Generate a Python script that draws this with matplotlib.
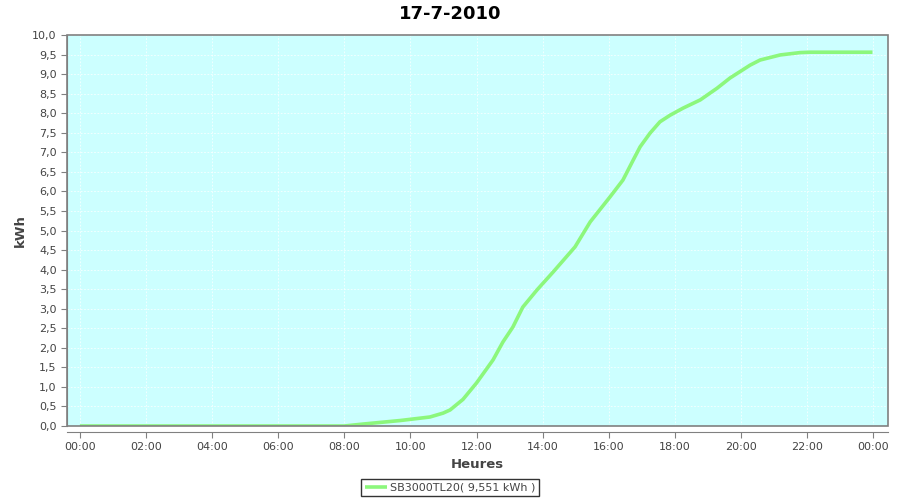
import matplotlib
matplotlib.use('Agg')
import matplotlib.pyplot as plt
from matplotlib.patches import Rectangle
from matplotlib.ticker import FuncFormatter, MultipleLocator

# energy production, 17-7-2010
hours = [0.0, 8.0, 8.57, 9.69, 10.59, 10.99, 11.2, 11.59, 12.0, 12.5, 12.8,
         13.1, 13.4, 13.83, 14.32, 14.98, 15.44, 16.04, 16.43, 16.74, 16.95,
         17.25, 17.55, 17.86, 18.25, 18.77, 19.28, 19.67, 20.28, 20.58, 21.19,
         21.79, 22.1, 23.0, 23.98]
kwh = [0.0, 0.0, 0.05, 0.14, 0.23, 0.33, 0.41, 0.68, 1.1, 1.69, 2.15,
       2.53, 3.04, 3.48, 3.94, 4.58, 5.22, 5.86, 6.29, 6.8, 7.14,
       7.49, 7.78, 7.95, 8.13, 8.34, 8.64, 8.9, 9.23, 9.36, 9.49,
       9.55, 9.56, 9.56, 9.56]
series_label = 'SB3000TL20( 9,551 kWh )'
title = '17-7-2010'

fig = plt.figure(figsize=(9, 5), dpi=100)
ax = fig.add_axes([67/900, 74/500, 821/900, 391/500])
ax.set_facecolor('#ccffff')

ax.plot(hours, kwh, color='#8cf77c', linewidth=2.6, label=series_label,
        solid_capstyle='butt')

ax.set_xlim(-0.39, 24.45)
ax.set_ylim(0, 10)
ax.xaxis.set_major_locator(MultipleLocator(2))
ax.yaxis.set_major_locator(MultipleLocator(0.5))
ax.xaxis.set_major_formatter(FuncFormatter(lambda v, p: '%02d:00' % (int(round(v)) % 24)))
ax.yaxis.set_major_formatter(FuncFormatter(lambda v, p: ('%.1f' % v).replace('.', ',')))

ax.grid(True, color='white', linestyle=(0, (2, 2)), linewidth=0.6, alpha=0.85)
ax.set_axisbelow(True)

for s in ['top', 'right']:
    ax.spines[s].set_visible(False)
ax.spines['bottom'].set_position(('outward', 4))
ax.spines['bottom'].set_color('#808080')
ax.spines['left'].set_color('#808080')
ax.add_patch(Rectangle((0, 0), 1, 1, transform=ax.transAxes, fill=False,
                       edgecolor='#808080', linewidth=1.2, zorder=5, clip_on=False))

ax.tick_params(colors='#808080', labelcolor='#444444', labelsize=8, length=4)
ax.set_xlabel('Heures', fontsize=9.5, fontweight='bold', color='#444444', labelpad=4)
ax.set_ylabel('kWh', fontsize=9.5, fontweight='bold', color='#444444', labelpad=4)
fig.text(0.5, 1 - 14/500, title, fontsize=13, fontweight='bold',
         ha='center', va='center')

leg = fig.legend(loc='center', bbox_to_anchor=(0.5, 0.025), fontsize=8,
                 frameon=True, fancybox=False, handlelength=2.0, borderpad=0.35,
                 handletextpad=0.3, labelcolor='#444444')
leg.get_frame().set_edgecolor('black')
leg.get_frame().set_linewidth(1.0)

fig.savefig('out.png', dpi=100)
